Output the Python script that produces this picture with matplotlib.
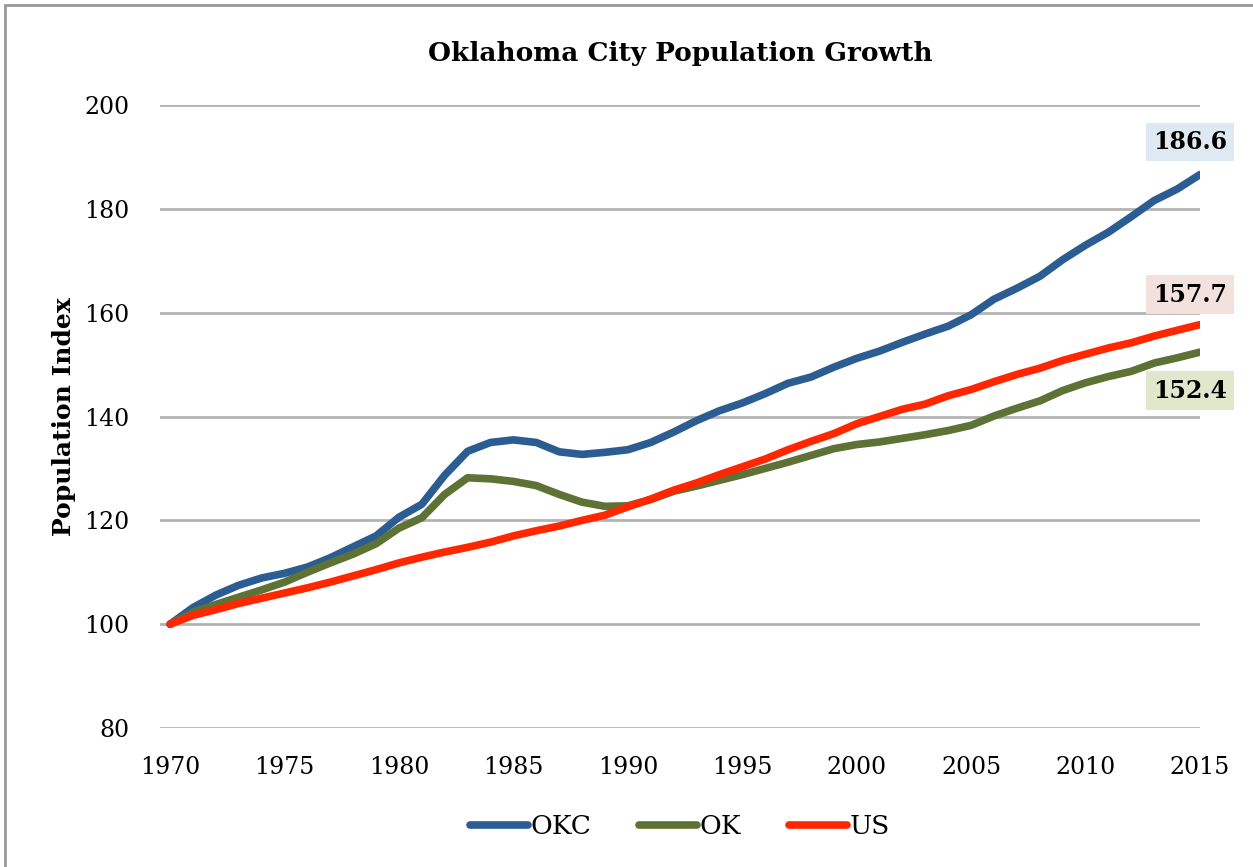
import matplotlib.pyplot as plt
from matplotlib.patches import Rectangle

plt.rcParams['font.family'] = ['DejaVu Serif']

years = list(range(1970, 2016))

okc = [100, 103.2, 105.6, 107.5, 108.9, 109.8, 111.0, 112.8, 114.9, 117.0,
       120.6, 123.1, 128.7, 133.3, 135.0, 135.5, 135.0, 133.2, 132.7, 133.1,
       133.6, 135.0, 137.0, 139.2, 141.1, 142.6, 144.4, 146.4, 147.6, 149.5,
       151.2, 152.6, 154.3, 155.9, 157.4, 159.6, 162.6, 164.7, 167.0, 170.2,
       173.0, 175.5, 178.5, 181.6, 183.8, 186.6]

ok = [100, 102.3, 103.8, 105.2, 106.6, 108.1, 110.0, 111.8, 113.5, 115.5,
      118.5, 120.5, 125.0, 128.2, 128.0, 127.5, 126.7, 125.0, 123.5, 122.7,
      122.8, 124.0, 125.6, 126.6, 127.7, 128.8, 130.0, 131.2, 132.5, 133.8,
      134.6, 135.1, 135.8, 136.5, 137.3, 138.3, 140.1, 141.6, 143.0, 145.0,
      146.5, 147.7, 148.7, 150.3, 151.3, 152.4]

us = [100, 101.7, 102.8, 104.0, 105.0, 106.0, 107.0, 108.1, 109.3, 110.5,
      111.8, 112.9, 113.9, 114.8, 115.8, 117.0, 118.0, 118.9, 120.0, 121.0,
      122.6, 124.1, 125.8, 127.2, 128.8, 130.3, 131.8, 133.6, 135.2, 136.7,
      138.6, 140.0, 141.4, 142.4, 144.0, 145.2, 146.7, 148.1, 149.3, 150.8,
      152.0, 153.2, 154.2, 155.5, 156.6, 157.7]

series = [("OKC", okc, "#2c5d92"), ("OK", ok, "#5e7236"), ("US", us, "#ff2600")]
# label text, value, vertical offset (points), box colour
end_labels = [("186.6", 186.6, 15, "#dfe9f2"),
              ("157.7", 157.7, 13, "#f3e1dd"),
              ("152.4", 152.4, -19, "#e0e7cd")]

fig = plt.figure(figsize=(12.53, 8.67), dpi=100)
ax = fig.add_axes([0.1277, 0.1603, 0.83, 0.7186])

for name, vals, col in series:
    ax.plot(years, vals, color=col, lw=5.5, label=name, solid_capstyle='round')

ax.set_xlim(1969.56, 2015)
ax.set_ylim(80, 200)
ax.set_xticks(range(1970, 2016, 5))
ax.set_yticks(range(80, 201, 20))
ax.grid(axis='y', color='#b3b3b3', lw=2)
ax.set_axisbelow(True)
for s in ax.spines.values():
    s.set_visible(False)
ax.tick_params(length=0, labelsize=17)
ax.tick_params(axis='x', pad=20)
ax.tick_params(axis='y', pad=22)
ax.set_ylabel("Population Index", fontsize=18, fontweight='bold', labelpad=6)
ax.set_title("Oklahoma City Population Growth", fontsize=19, fontweight='bold', pad=32)

for txt, v, dy, bg in end_labels:
    ax.annotate(txt, (2015, v), xytext=(-7, dy), textcoords='offset points',
                ha='center', va='bottom' if dy > 0 else 'top',
                fontsize=17, fontweight='bold',
                bbox=dict(boxstyle='square,pad=0.3', fc=bg, ec='none'))

ax.legend(loc='upper center', bbox_to_anchor=(0.5, -0.1), ncol=3, frameon=False,
          fontsize=19, handlelength=2.2, handletextpad=0.1, columnspacing=1.8)

fig.patches.append(Rectangle((0.004, -0.01), 1.2, 1.004, transform=fig.transFigure,
                             fill=False, ec='#999999', lw=2))

fig.savefig("out.png", dpi=100)
